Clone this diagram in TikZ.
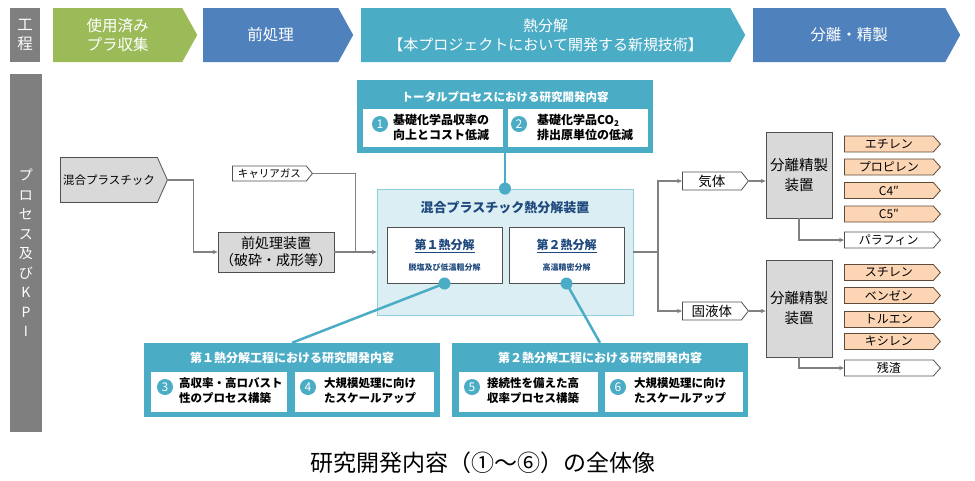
\documentclass[tikz,border=0pt]{standalone}
\usepackage{fontspec}
\setmainfont{Noto Sans CJK JP}
\usetikzlibrary{shapes.symbols,arrows.meta,calc}
\definecolor{hgray}{HTML}{7F7F7F}
\definecolor{hgreen}{HTML}{9BBB59}
\definecolor{hblue}{HTML}{4F81BD}
\definecolor{hteal}{HTML}{4BACC6}
\definecolor{boxgray}{HTML}{D9D9D9}
\definecolor{lgray}{HTML}{808080}
\definecolor{dgray}{HTML}{505050}
\definecolor{lblue}{HTML}{DAEEF3}
\definecolor{lbord}{HTML}{92CDDC}
\definecolor{dtext}{HTML}{1F497D}
\definecolor{orng}{HTML}{FCD5B4}
\definecolor{obord}{HTML}{5E4A38}
\begin{document}
\begin{tikzpicture}[x=1pt,y=-1pt,
  hdr/.style={signal, signal to=east, signal pointer angle=122, minimum height=54pt, text=white, font=\fontsize{15.5}{19}\selectfont, align=center, inner sep=0pt, anchor=west},
  conn/.style={draw=lgray, line width=1.1pt, -{Stealth[length=5pt,width=4.5pt]}},
  plain/.style={draw=lgray, line width=1.1pt},
  graybox/.style={draw=dgray, fill=boxgray, line width=0.8pt, align=center, inner sep=0pt},
  pent/.style={signal, signal to=east, draw=dgray, line width=0.8pt, anchor=west, inner sep=0pt},
  gasp/.style={pent, fill=white, minimum height=18pt, minimum width=66pt, signal pointer angle=104, font=\fontsize{13.5}{15}\selectfont},
  prod/.style={pent, fill=orng, draw=obord, minimum height=16pt, minimum width=96pt, signal pointer angle=97, font=\fontsize{12}{14}\selectfont},
  outw/.style={prod, fill=white, draw=dgray},
  tealbox/.style={fill=hteal, draw=none, minimum width=296pt, minimum height=74pt, inner sep=0pt},
  ttl/.style={text=white, inner sep=0pt},
  subbox/.style={fill=white, draw=none, minimum height=40pt, inner sep=0pt},
  num/.style={circle, fill=hteal, text=white, minimum size=16pt, inner sep=0pt, font=\fontsize{12}{12}\selectfont},
  subt/.style={anchor=west, align=left, inner sep=0pt},
  tline/.style={draw=hteal, line width=2.5pt},
  tdot/.style={circle, fill=hteal, minimum size=12pt, inner sep=0pt},
]
\useasboundingbox (0,0) rectangle (975,480);

% header row
\node[fill=hgray, minimum width=30pt, minimum height=54pt, text=white, inner sep=0pt, align=center, font=\fontsize{15.5}{19}\selectfont] (h0) at (25,35) {工\\程};
\node[hdr, fill=hgreen, minimum width=144pt] (h1) at (53,35) {使用済み\\プラ収集};
\node[hdr, fill=hblue, minimum width=150pt] (h2) at (203,35) {前処理};
\node[hdr, fill=hteal, minimum width=384pt, font=\fontsize{15}{19}\selectfont] (h3) at (361,35) {熱分解\\【本プロジェクトにおいて開発する新規技術】};
\node[hdr, fill=hblue, minimum width=207pt] (h4) at (753,35) {分離・精製};

% left bar
\node[fill=hgray, minimum width=32pt, minimum height=358pt, text=white, align=center, inner sep=0pt, font=\fontsize{14}{19.5}\selectfont] (vbar) at (26,253) {プ\\ロ\\セ\\ス\\及\\び\\K\\P\\I};

% inputs
\node[pent, fill=boxgray, minimum width=107pt, minimum height=45pt, signal pointer angle=132, font=\fontsize{11.5}{14}\selectfont] (mix) at (60,180) {混合プラスチック};
\node[graybox, minimum width=116pt, minimum height=40pt, font=\fontsize{14}{17}\selectfont] (pre) at (276,252) {前処理装置\\（破砕・成形等）};
\node[pent, fill=white, minimum width=80pt, minimum height=15pt, signal pointer angle=102, font=\fontsize{10.5}{12}\selectfont] (carrier) at (232,173.5) {キャリアガス};

% pyrolysis unit
\node[fill=lblue, draw=lbord, line width=0.8pt, minimum width=256pt, minimum height=126pt, inner sep=0pt] (big) at (505,252) {};
\node[font=\bfseries\fontsize{13}{15}\selectfont, text=dtext, inner sep=0pt] (bigt) at (505,208) {混合プラスチック熱分解装置};
\node[fill=white, draw=dgray, line width=1pt, minimum width=115pt, minimum height=56pt, align=center, text=dtext, inner sep=0pt, font=\bfseries\fontsize{12}{14}\selectfont] (in1) at (444.5,255) {\underline{第１熱分解}\\[7pt]{\fontsize{8}{10}\selectfont 脱塩及び低温粗分解}};
\node[fill=white, draw=dgray, line width=1pt, minimum width=115pt, minimum height=56pt, align=center, text=dtext, inner sep=0pt, font=\bfseries\fontsize{12}{14}\selectfont] (in2) at (566.5,255) {\underline{第２熱分解}\\[7pt]{\fontsize{8}{10}\selectfont 高温精密分解}};

\draw[conn] (mix.east) -- ++(26,0) |- (pre.west);
\draw[plain] (carrier.east) -| ($(pre.east)!0.5!(big.west)$);
\draw[conn] (pre.east) -- (big.west);

% top research box
\node[tealbox, minimum height=73pt] (top) at (505,116.5) {};
\node[ttl, font=\bfseries\fontsize{11.5}{13}\selectfont] (topt) at (505,97) {トータルプロセスにおける研究開発内容};
\node[subbox, minimum width=140pt, minimum height=38pt] (s1) at (433,128) {};
\node[subbox, minimum width=140pt, minimum height=38pt] (s2) at (578,128) {};
\node[num] (n1) at (380,124) {1};
\node[subt, font=\bfseries\fontsize{12}{15}\selectfont] (t1) at (393,127.5) {基礎化学品収率の\\向上とコスト低減};
\node[num] (n2) at (519,124) {2};
\node[subt, font=\bfseries\fontsize{12}{15}\selectfont] (t2) at (537,127.5) {基礎化学品CO\textsubscript{2}\\排出原単位の低減};

% lower research boxes
\node[tealbox] (b3) at (292,380) {};
\node[ttl, font=\bfseries\fontsize{12}{14}\selectfont] (b3t) at (292,358) {第１熱分解工程における研究開発内容};
\node[subbox, minimum width=136pt] (s3) at (219,392) {};
\node[subbox, minimum width=139pt] (s4) at (364.5,392) {};
\node[num] (n3) at (165,387) {3};
\node[subt, font=\bfseries\fontsize{11.5}{15}\selectfont] (t3) at (179,390.5) {高収率・高ロバスト\\性のプロセス構築};
\node[num] (n4) at (308,387) {4};
\node[subt, font=\bfseries\fontsize{11.5}{15}\selectfont] (t4) at (324,390.5) {大規模処理に向け\\たスケールアップ};

\node[tealbox] (b4) at (600,380) {};
\node[ttl, font=\bfseries\fontsize{12}{14}\selectfont] (b4t) at (600,358) {第２熱分解工程における研究開発内容};
\node[subbox, minimum width=139pt] (s5) at (528.5,392) {};
\node[subbox, minimum width=138pt] (s6) at (674,392) {};
\node[num] (n5) at (472,387) {5};
\node[subt, font=\bfseries\fontsize{11.5}{15}\selectfont] (t5) at (487,390.5) {接続性を備えた高\\収率プロセス構築};
\node[num] (n6) at (618,387) {6};
\node[subt, font=\bfseries\fontsize{11.5}{15}\selectfont] (t6) at (634,390.5) {大規模処理に向け\\たスケールアップ};

% teal links
\draw[tline] (top.south) -- (big.north);
\node[tdot] (d0) at (big.north) {};
\draw[tline] (in1.south) -- (b3.north);
\node[tdot] (d1) at (in1.south) {};
\draw[tline] (in2.south) -- (b4.north);
\node[tdot] (d2) at (in2.south) {};

% outputs
\coordinate (br) at (658,252);
\node[gasp] (gas1) at (682,181) {気体};
\node[gasp] (sol) at (682,311) {固液体};
\draw[plain] (big.east) -- (br);
\draw[conn] (br) |- (gas1.west);
\draw[conn] (br) |- (sol.west);

\node[graybox, minimum width=66pt, minimum height=86pt, font=\fontsize{14.5}{20}\selectfont] (sep1) at (799,175) {分離精製\\装置};
\node[graybox, minimum width=66pt, minimum height=97pt, font=\fontsize{14.5}{20}\selectfont] (sep2) at (799,308.5) {分離精製\\装置};
\draw[conn] (gas1.east) -- (gas1.east -| sep1.west);
\draw[conn] (sol.east) -- (sol.east -| sep2.west);

\node[prod] (p1) at (844,144) {エチレン};
\node[prod] (p2) at (844,167) {プロピレン};
\node[prod] (p3) at (844,190.5) {C4″};
\node[prod] (p4) at (844,214) {C5″};
\node[outw] (para) at (844,240) {パラフィン};
\draw[conn] (sep1.south) |- (para.west);

\node[prod] (p5) at (844,272.5) {スチレン};
\node[prod] (p6) at (844,295.5) {ベンゼン};
\node[prod] (p7) at (844,319.5) {トルエン};
\node[prod] (p8) at (844,341.5) {キシレン};
\node[outw] (res) at (844,368) {残渣};
\draw[conn] (sep2.south) |- (res.west);

% caption
\node[font=\fontsize{23}{26}\selectfont, inner sep=0pt] (cap) at (483,463) {研究開発内容（①～⑥）の全体像};
\end{tikzpicture}
\end{document}
